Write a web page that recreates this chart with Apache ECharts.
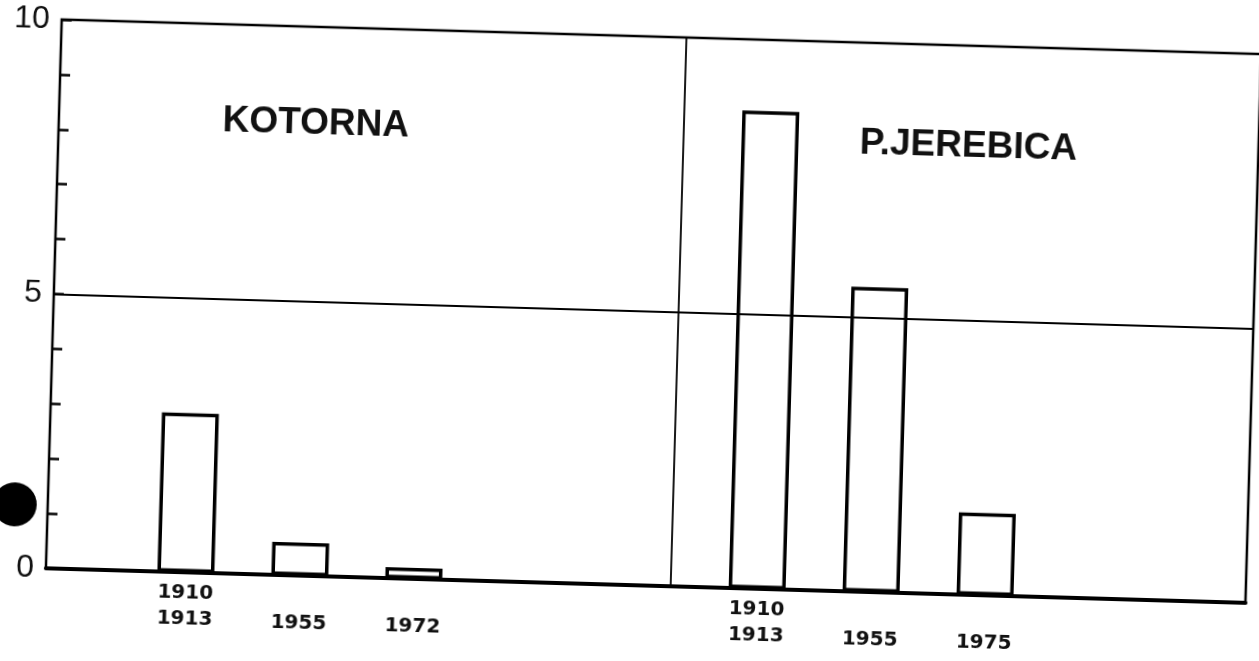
<!DOCTYPE html>
<html>
<head>
    <meta charset="UTF-8">
    <title>Kotorna / P.Jerebica</title>
    <style>
        html, body { margin: 0; padding: 0; background: #fff; overflow: hidden; }
        /* the scanned figure sits slightly rotated clockwise */
        #chart { width: 1259px; height: 661px; transform: rotate(1.65deg); }
    </style>
</head>
<body>
    <div id="chart"></div>

    <script src="https://cdn.jsdelivr.net/npm/echarts@6/dist/echarts.min.js"></script>
    <script>
        // data
        var kotornaYears = ['1910\n1913', '1955', '1972'];
        var kotornaValues = [2.9, 0.6, 0.2];
        var jerebicaYears = ['1910\n1913', '1955', '1975'];
        var jerebicaValues = [8.7, 5.55, 1.5];
        var yLabels = [0, 5, 10];

        var font = '"Liberation Sans", Arial, sans-serif';
        var labelFont = '"DejaVu Sans", sans-serif';

        // each bar sits in a slot of width 1 on the hidden x axis
        function group(names, values, start) {
            return names.map(function (n, i) {
                var twoLines = n.indexOf('\n') >= 0;
                return {
                    name: n,
                    value: [start + i, values[i]],
                    label: { distance: twoLines ? 8 : 35 }
                };
            });
        }

        var barData = group(kotornaYears, kotornaValues, 1.228)
            .concat(group(jerebicaYears, jerebicaValues, 6.241));

        var option = {
            backgroundColor: '#fff',
            animation: false,
            graphic: [
                {
                    type: 'text', x: 310, y: 133,
                    style: {
                        text: 'KOTORNA', align: 'center', verticalAlign: 'middle',
                        font: 'bold 37px ' + font, fill: '#111'
                    }
                },
                {
                    type: 'text', x: 963, y: 137,
                    style: {
                        text: 'P.JEREBICA', align: 'center', verticalAlign: 'middle',
                        font: 'bold 37px ' + font, fill: '#111'
                    }
                },
                { type: 'circle', shape: { cx: 20, cy: 522, r: 22 }, style: { fill: '#000' } }
            ],
            grid: {
                left: 53, right: 6, top: 36, bottom: 76,
                show: true, borderColor: '#000', borderWidth: 2.5, backgroundColor: 'transparent'
            },
            xAxis: {
                type: 'value', min: 0, max: 10.526,
                axisLine: { show: true, lineStyle: { color: '#000', width: 4 } },
                axisTick: { show: false },
                axisLabel: { show: false },
                splitLine: { show: false }
            },
            yAxis: {
                type: 'value', min: 0, max: 10, interval: 1,
                axisLine: { show: true, lineStyle: { color: '#000', width: 2 } },
                axisTick: { show: true, inside: true, length: 10, lineStyle: { color: '#000', width: 2.5 } },
                axisLabel: {
                    margin: 12, fontFamily: font, fontSize: 32, color: '#111',
                    formatter: function (v) { return yLabels.indexOf(v) >= 0 ? String(v) : ''; }
                },
                splitLine: { show: false }
            },
            series: [{
                type: 'bar',
                barWidth: 57,
                data: barData,
                itemStyle: { color: '#fff', borderColor: '#000', borderWidth: 3.5 },
                label: {
                    show: true, position: 'bottom',
                    fontFamily: labelFont, fontSize: 20, fontWeight: 'bold', color: '#111',
                    lineHeight: 26,
                    formatter: function (p) { return p.name; }
                },
                markLine: {
                    silent: true, symbol: 'none', label: { show: false },
                    lineStyle: { color: '#000', width: 1.8, type: 'solid' },
                    data: [{ xAxis: 5.48 }, { yAxis: 5 }]
                }
            }]
        };

        var chart = echarts.init(document.getElementById('chart'));
        chart.setOption(option);
    </script>
</body>
</html>
